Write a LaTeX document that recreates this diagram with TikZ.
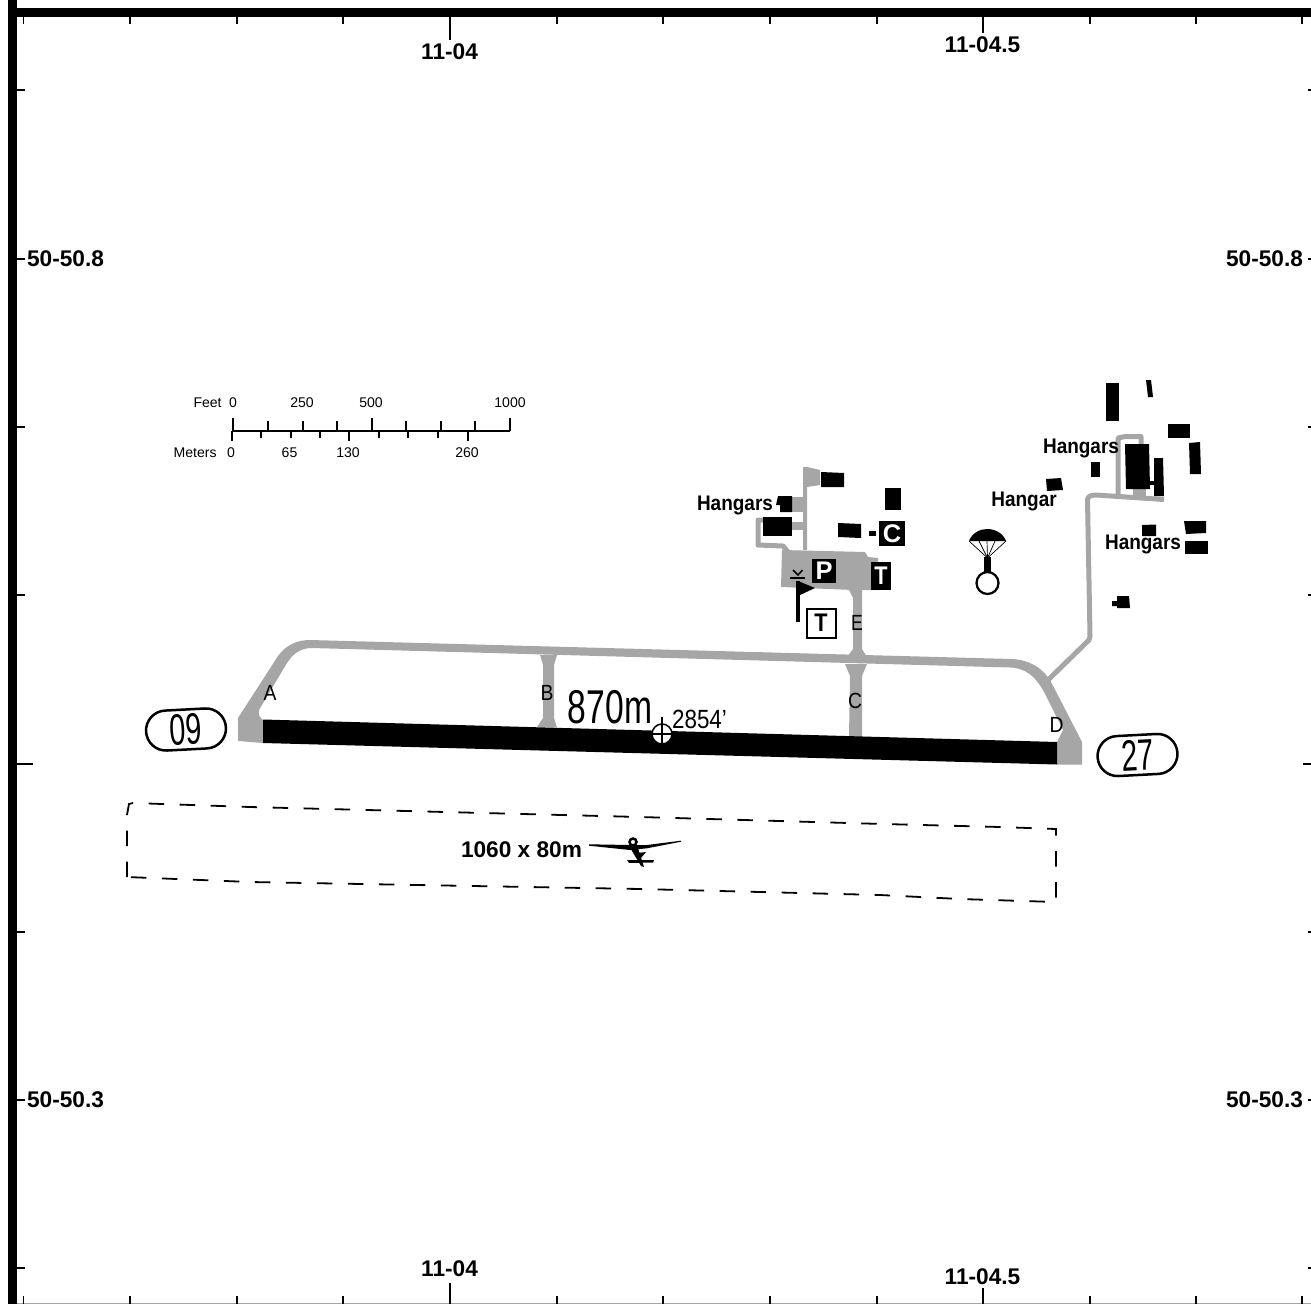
\documentclass[tikz,border=0pt]{standalone}
\usepackage{fontspec}
\setmainfont{Liberation Sans}
\usetikzlibrary{shapes.misc}

\definecolor{taxigray}{HTML}{A6A6A6}
\def\squeeze#1#2{\scalebox{#1}[1]{#2}}

\begin{document}
\begin{tikzpicture}[x=0.02cm, y=-0.02cm, black,
    taxi/.style = {draw=taxigray, line width=0.1cm, line join=round},
    apron/.style = {fill=taxigray},
    hangar/.style = {fill=black},
    coord/.style = {inner sep=0pt, font=\fontsize{12.9}{14}\bfseries},
    bldlabel/.style = {inner sep=0pt, font=\fontsize{12}{14}\bfseries},
    twylabel/.style = {inner sep=0pt, font=\fontsize{12.5}{14}\selectfont},
    scalelabel/.style = {inner sep=0pt, font=\fontsize{8}{10}\selectfont},
    signbox/.style = {fill=black, text=white, inner sep=0pt, font=\fontsize{14.5}{16}\bfseries},
    pill/.style = {draw, rounded rectangle, line width=0.05cm, inner sep=0pt,
        minimum width=1.6cm, minimum height=0.8cm, font=\fontsize{25}{27}\selectfont}]
    \useasboundingbox (0,0) rectangle (1311,1304);

    \def\tickw{0.04cm}

    % frame
    \fill (8,0) rectangle (17,1304);
    \fill (8,8) rectangle (1311,17);
    \draw[black!35, line width=0.02cm] (17,1303.4) -- (1311,1303.4);

    \foreach \tx in {23.5,130,237,343,557,663,770,877,1090,1196,1302} {
        \draw[line width=\tickw] (\tx,17) -- (\tx,24);
        \draw[line width=\tickw] (\tx,1296) -- (\tx,1304);
    }
    \draw[line width=\tickw] (450,17) -- (450,40);
    \draw[line width=\tickw] (450,1283) -- (450,1304);
    \draw[line width=\tickw] (983,17) -- (983,33);
    \draw[line width=\tickw] (983,1288) -- (983,1304);
    \foreach \ty in {90,259,427,595,932,1100,1268} {
        \draw[line width=0.03cm] (17,\ty) -- (25,\ty);
        \draw[line width=0.03cm] (1308,\ty) -- (1311,\ty);
    }
    \draw[line width=0.03cm] (17,764) -- (33,764);
    \draw[line width=0.03cm] (1303,764) -- (1311,764);

    \node[coord] (lontopa) at (449.5,52) {11-04};
    \node[coord] (lontopb) at (982.5,45) {11-04.5};
    \node[coord] (lonbota) at (449.5,1269) {11-04};
    \node[coord] (lonbotb) at (982.5,1277) {11-04.5};
    \node[coord] (latlefta) at (65.5,259) {50-50.8};
    \node[coord] (latrighta) at (1264.5,259) {50-50.8};
    \node[coord] (latleftb) at (65.5,1100) {50-50.3};
    \node[coord] (latrightb) at (1264.5,1100) {50-50.3};

    % scale bar
    \draw[line width=0.028cm] (232,431) -- (510,431);
    \foreach \tx in {268,303,337,406,441,475}
        \draw[line width=0.028cm] (\tx,431) -- (\tx,421);
    \foreach \tx in {233,372,510}
        \draw[line width=0.028cm] (\tx,431) -- (\tx,418);
    \foreach \tx in {261,291,320,379,408,438}
        \draw[line width=0.028cm] (\tx,431) -- (\tx,438);
    \foreach \tx in {232,349,468}
        \draw[line width=0.028cm] (\tx,431) -- (\tx,441);
    \node[scalelabel, anchor=east] (feet) at (222,402.5) {Feet};
    \node[scalelabel] (feeta) at (233,402.5) {0};
    \node[scalelabel] (feetb) at (302,402.5) {250};
    \node[scalelabel] (feetc) at (371,402.5) {500};
    \node[scalelabel] (feetd) at (510,402.5) {1000};
    \node[scalelabel, anchor=east] (meters) at (217,453) {Meters};
    \node[scalelabel] (metersa) at (231,453) {0};
    \node[scalelabel] (metersb) at (289.5,453) {65};
    \node[scalelabel] (metersc) at (348,453) {130};
    \node[scalelabel] (metersd) at (467,453) {260};

    % taxiways
    \fill[apron] (238,718) -- (278,656) .. controls (286,645) and (297,640) .. (310,640)
        -- (1012,659) .. controls (1030,660) and (1042,668) .. (1050,680)
        -- (1082,742) -- (1082,764.5) -- (1057,764.5) -- (1057,742) -- (1063,730) -- (1044,692)
        .. controls (1036,677) and (1026,668) .. (1010,667.5)
        -- (312,648) .. controls (300,648) and (293,654) .. (287,663)
        -- (259,710) .. controls (258,715) and (260,718) .. (263,720)
        -- (263,743) -- (238,741) -- cycle;
    \fill[apron] (537,727) -- (543,718) -- (543,665) -- (540,655) -- (557,655)
        -- (554,665) -- (554,718) -- (557,727.5) -- cycle;
    \fill[apron] (849,737) -- (850,676) -- (845,664) -- (867,664) -- (862,676) -- (862,737) -- cycle;
    \fill[apron] (847,657) -- (853,649) -- (853,598) -- (848,588) -- (862,588)
        -- (862,649) -- (867,657) -- cycle;
    \fill[apron] (782,550) -- (865,552) -- (868,557) -- (878,558) -- (878,590)
        -- (853,590) -- (781,587) -- cycle;
    \fill[apron] (803,467) -- (807,467) -- (820,470) -- (820,485) -- (807,487) -- (807,550) -- (803,550) -- cycle;
    \fill[apron] (792,497) -- (804,497) -- (804,512) -- (792,512) -- cycle;
    \fill[apron] (792,522) -- (804,522) -- (804,530) -- (792,530) -- cycle;
    \draw[taxi] (763,520) -- (758,520) -- (758,545) -- (783,546) -- (788,552);
    \draw[taxi] (1048,680) -- (1089,640) -- (1090,636) -- (1087.5,500) .. controls (1087.5,497) and (1090,495) .. (1096,495)
        -- (1164,499.5);
    \draw[taxi] (1118,496) -- (1118,438) -- (1125,436.5) -- (1141,436.5) -- (1141,446);
    \fill[apron] (1133,487) -- (1146,487) -- (1146,499) -- (1133,499) -- cycle;

    % runway
    \fill (263,719.5) -- (1057,742) -- (1057,764.5) -- (263,743) -- cycle;

    % buildings
    \fill[hangar] (778,496) -- (792,496) -- (792,512) -- (780,512) -- (780,505) -- (776,505) -- cycle;
    \fill[hangar] (763,517) rectangle (792,536);
    \fill[hangar] (821,472) -- (844,473) -- (844,487) -- (821,487) -- cycle;
    \fill[hangar] (885,488) rectangle (901,510);
    \fill[hangar] (838,523) -- (861,524) -- (861,538) -- (838,537) -- cycle;
    \fill[hangar] (869,531) rectangle (876,536);
    \fill[hangar] (1106,383) rectangle (1119,421);
    \fill[hangar] (1146,380) -- (1151,380) -- (1153,397) -- (1148,397) -- cycle;
    \fill[hangar] (1168,424) rectangle (1190,438);
    \fill[hangar] (1189,443) -- (1200,442) -- (1201,474) -- (1190,474) -- cycle;
    \fill[hangar] (1125,444) -- (1149,444) -- (1150,489) -- (1126,489) -- cycle;
    \fill[hangar] (1149,481) rectangle (1155,485);
    \fill[hangar] (1154,458) -- (1163,458) -- (1164,496) -- (1154,496) -- cycle;
    \fill[hangar] (1091,462) rectangle (1100,477);
    \fill[hangar] (1046,479) -- (1061,478) -- (1063,490) -- (1047,491) -- cycle;
    \fill[hangar] (1142,525) -- (1156,524.5) -- (1156,536) -- (1142,536) -- cycle;
    \fill[hangar] (1184,521) -- (1206,521) -- (1206,533) -- (1186,534) -- cycle;
    \fill[hangar] (1185,541) -- (1208,541) -- (1208,554) -- (1185,554) -- cycle;
    \fill[hangar] (1117,596) -- (1129,596) -- (1130,608) -- (1117,608) -- (1117,606) -- (1112,606) -- (1112,601) -- (1117,601) -- cycle;

    \node[bldlabel] (hangarsa) at (735,505.5) {\squeeze{0.9}{Hangars}};
    \node[bldlabel] (hangarsb) at (1081,448.5) {\squeeze{0.9}{Hangars}};
    \node[bldlabel] (hangarc) at (1024,501.5) {\squeeze{0.9}{Hangar}};
    \node[bldlabel] (hangarsd) at (1143,544.5) {\squeeze{0.9}{Hangars}};

    % signs
    \node[signbox, minimum width=0.48cm, minimum height=0.48cm] (parking) at (824,571) {P};
    \node[signbox, minimum width=0.40cm, minimum height=0.56cm] (towera) at (881,576) {\squeeze{0.85}{T}};
    \node[signbox, minimum width=0.52cm, minimum height=0.50cm] (caution) at (892,533.5) {C};
    \node[draw, line width=0.04cm, inner sep=0pt, minimum width=0.58cm, minimum height=0.58cm,
        font=\fontsize{14.5}{16}\bfseries] (towerb) at (821,623) {\squeeze{0.85}{T}};

    \draw[line width=0.07cm] (797.8,581) -- (797.8,622);
    \fill (798,581) -- (815,588) -- (798,596) -- cycle;
    \draw[line width=0.03cm] (790,578) -- (805,578);
    \draw[line width=0.03cm] (793,570) -- (798,575) -- (802.5,570);

    % parachute
    \fill (969,541) .. controls (972,533) and (980,529) .. (987,529)
        .. controls (995,529) and (1003,533) .. (1006,541) -- cycle;
    \foreach \lx in {969,979,987,995,1006}
        \draw[line width=0.014cm] (\lx,541) -- (987.5,558);
    \fill (984,557) rectangle (991,572);
    \draw[line width=0.045cm, fill=white] (987.5,583) circle (11);

    \node[twylabel] (twya) at (270,693) {\squeeze{0.88}{A}};
    \node[twylabel] (twyb) at (547,693) {\squeeze{0.88}{B}};
    \node[twylabel] (twyc) at (855,701) {\squeeze{0.88}{C}};
    \node[twylabel] (twyd) at (1056.5,725) {\squeeze{0.88}{D}};
    \node[twylabel] (twye) at (857,623) {\squeeze{0.8}{E}};

    \node[pill, rotate=3] (rwyzeronine) at (186,729.5) {\squeeze{0.66}{09}};
    \node[pill, rotate=3] (rwytwoseven) at (1137.5,755) {\squeeze{0.66}{27}};

    \node[inner sep=0pt, font=\fontsize{27}{29}\selectfont] (rwylen) at (610,707) {\squeeze{0.71}{870m}};
    \node[inner sep=0pt, font=\fontsize{15}{16}\selectfont] (elev) at (699.5,719) {\squeeze{0.85}{2854\symbol{39}}};

    % field reference point
    \draw[line width=0.03cm, fill=white] (662,734) circle (10);
    \draw[line width=0.035cm] (662,717) -- (662,744);
    \draw[line width=0.035cm] (652,734) -- (672,734);

    % displaced area
    \draw[line width=0.036cm, dash pattern=on 0.31cm off 0.31cm]
        (127,877) -- (127,815) -- (129,804) -- (133,803) -- (250,807) -- (640,817) -- (883,824) -- (1000,827)
        -- (1056,829) -- (1056,902) -- (960,899) -- (880,895) -- (640,889) -- (250,882) -- cycle;

    \node[inner sep=0pt, font=\fontsize{12.9}{14}\bfseries] (strip) at (521.5,850) {1060 x 80m};

    % glider
    \fill (589,844.3) -- (630,845) -- (647,845) -- (681,840.7) -- (681,841.7) -- (647,848.3) -- (630,850) -- (589,845.7) -- cycle;
    \draw[line width=0.05cm, fill=white] (633,842) circle (3.5);
    \fill (629,846) -- (637,845) -- (644,867) -- (641,866) -- cycle;
    \fill (637,853) -- (646,852) -- (641,858) -- cycle;
    \fill (627,860) -- (654,860) -- (653,862.5) -- (629,863) -- cycle;
\end{tikzpicture}
\end{document}
